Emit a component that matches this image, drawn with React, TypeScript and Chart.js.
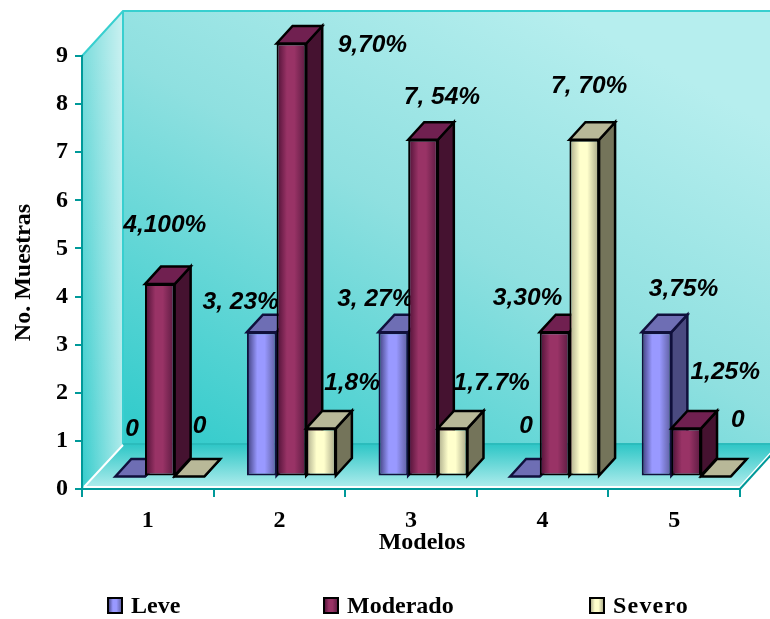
import React, { useEffect, useRef } from "react";
import { Chart, registerables } from "chart.js";

Chart.register(...registerables);

const categories = ["1", "2", "3", "4", "5"];
const leve = [0, 3, 3, 0, 3];
const moderado = [4, 9, 7, 3, 1];
const severo = [0, 1, 1, 7, 0];
const leveLabels = ["0", "3, 23%", "3, 27%", "0", "3,75%"];
const moderadoLabels = ["4,100%", "9,70%", "7, 54%", "3,30%", "1,25%"];
const severoLabels = ["0", "1,8%", "1,7.7%", "7, 70%", "0"];
const seriesNames = ["Leve", "Moderado", "Severo"];

// Data label centres, relative to the top-centre of the front face of each bar.
const leveNudge = [[2, -47], [-21, -29.5], [-18, -32.5], [1, -50], [27, -42.5]];
const moderadoNudge = [[5, -58.5], [81, 1.5], [19, -42.5], [-27, -33.5], [39, -56.5]];
const severoNudge = [[10, -50.5], [31, -45.5], [39, -45.5], [5, -53.5], [22, -56.5]];

const FLOOR_DX = 41;
const FLOOR_DY = -45;
const BAR_SHIFT_X = 12;
const BAR_SHIFT_Y = -12.5;
const BAR_DX = 16;
const BAR_DY = -17.5;
const GROUP_SHARE = 0.676;

const palette = [
  { edge: "#3c3c78", mid: "#9999ff", end: "#5c5c9c", side: "#4a4a80", top: "#6e6eb4", line: "#10103c" },
  { edge: "#4c1034", mid: "#993366", end: "#5a1a40", side: "#451230", top: "#702050", line: "#000000" },
  { edge: "#a8a888", mid: "#ffffcc", end: "#a5a585", side: "#74745a", top: "#b8b898", line: "#000000" },
];

function faceGradient(ctx: CanvasRenderingContext2D, left: number, width: number, p: typeof palette[number]) {
  const g = ctx.createLinearGradient(left, 0, left + width, 0);
  g.addColorStop(0, p.edge);
  g.addColorStop(0.35, p.mid);
  g.addColorStop(0.6, p.mid);
  g.addColorStop(1, p.end);
  return g;
}

function poly(ctx: CanvasRenderingContext2D, pts: number[][], close = true) {
  ctx.beginPath();
  pts.forEach(([x, y], i) => (i ? ctx.lineTo(x, y) : ctx.moveTo(x, y)));
  if (close) ctx.closePath();
}

// Back wall, side wall and floor of the box behind the bars.
const roomPlugin = {
  id: "room",
  beforeDraw(chart: any) {
    const { ctx, chartArea: a } = chart;
    const bx = a.left + FLOOR_DX;
    const tx = a.right + FLOOR_DX;
    const ty = a.top + FLOOR_DY;
    const by = a.bottom + FLOOR_DY;
    ctx.save();

    const back = ctx.createLinearGradient(bx + 60, by, bx + 330, ty - 60);
    back.addColorStop(0, "#35cccc");
    back.addColorStop(0.55, "#8fe0e0");
    back.addColorStop(1, "#b6eeee");
    poly(ctx, [[bx, ty], [tx, ty], [tx, by], [bx, by]]);
    ctx.fillStyle = back;
    ctx.fill();

    const side = ctx.createLinearGradient(0, a.bottom, 0, a.top);
    side.addColorStop(0, "#35cccc");
    side.addColorStop(1, "#7adcdc");
    poly(ctx, [[a.left, a.top], [bx, ty], [bx, by], [a.left, a.bottom]]);
    ctx.fillStyle = side;
    ctx.fill();
    const sheen = ctx.createLinearGradient(a.left, 0, bx, 0);
    sheen.addColorStop(0, "rgba(255,255,255,0)");
    sheen.addColorStop(1, "rgba(255,255,255,0.6)");
    ctx.fillStyle = sheen;
    ctx.fill();

    const floor = ctx.createLinearGradient(0, by, 0, a.bottom);
    floor.addColorStop(0, "#2dc6c6");
    floor.addColorStop(1, "#b4eeee");
    poly(ctx, [[a.left, a.bottom], [bx, by], [tx, by], [a.right, a.bottom]]);
    ctx.fillStyle = floor;
    ctx.fill();

    ctx.lineWidth = 2;
    ctx.strokeStyle = "#38cfcf";
    poly(ctx, [[a.left, a.top], [bx, ty], [tx, ty]], false);
    ctx.stroke();
    ctx.beginPath();
    ctx.moveTo(bx, ty);
    ctx.lineTo(bx, by);
    ctx.stroke();
    ctx.strokeStyle = "#2bbcbc";
    ctx.beginPath();
    ctx.moveTo(bx, by);
    ctx.lineTo(tx, by);
    ctx.stroke();

    ctx.strokeStyle = "#ffffff";
    ctx.beginPath();
    ctx.moveTo(a.left + 2, a.bottom - 2);
    ctx.lineTo(a.right, a.bottom - 2);
    ctx.lineTo(tx, by - 2);
    ctx.moveTo(a.left + 2, a.bottom - 2);
    ctx.lineTo(bx, by + 1);
    ctx.stroke();
    ctx.strokeStyle = "#009999";
    ctx.beginPath();
    ctx.moveTo(a.right, a.bottom);
    ctx.lineTo(tx, by);
    ctx.stroke();
    ctx.restore();
  },
};

// Data labels, extruded bars painted left to right, legend and the x axis caption.
const prismPlugin = {
  id: "prism",
  beforeDatasetsDraw(chart: any) {
    const { ctx } = chart;
    const rows = [
      { labels: leveLabels, nudge: leveNudge, index: 0 },
      { labels: moderadoLabels, nudge: moderadoNudge, index: 1 },
      { labels: severoLabels, nudge: severoNudge, index: 2 },
    ];
    ctx.save();
    ctx.font = "italic bold 24.5px 'Liberation Sans'";
    ctx.fillStyle = "#000000";
    ctx.textAlign = "center";
    ctx.textBaseline = "middle";
    rows.forEach(({ labels, nudge, index }) => {
      chart.getDatasetMeta(index).data.forEach((el: any, i: number) => {
        ctx.fillText(labels[i], el.x + BAR_SHIFT_X + nudge[i][0], el.y + BAR_SHIFT_Y + nudge[i][1]);
      });
    });
    ctx.restore();

    ctx.save();
    ctx.translate(BAR_SHIFT_X, BAR_SHIFT_Y);
    rows.forEach(({ index }) => {
      const meta = chart.getDatasetMeta(index);
      const p = palette[index];
      meta.data.forEach((el: any) => {
        const { x, y, base, width } = el.getProps(["x", "y", "base", "width"], true);
        const l = x - width / 2;
        const r = x + width / 2;
        ctx.lineWidth = 2.5;
        ctx.lineJoin = "miter";
        ctx.strokeStyle = p.line;
        poly(ctx, [[r, y], [r + BAR_DX, y + BAR_DY], [r + BAR_DX, base + BAR_DY], [r, base]]);
        ctx.fillStyle = p.side;
        ctx.fill();
        ctx.stroke();
        poly(ctx, [[l, y], [l + BAR_DX, y + BAR_DY], [r + BAR_DX, y + BAR_DY], [r, y]]);
        ctx.fillStyle = p.top;
        ctx.fill();
        ctx.stroke();
      });
      meta.controller.draw();
    });
    ctx.restore();
  },
  // Every dataset has already been painted in series order above.
  beforeDatasetDraw() {
    return false;
  },
  afterDatasetsDraw(chart: any) {
    const { ctx } = chart;
    ctx.save();

    ctx.font = "bold 24px 'Liberation Serif'";
    ctx.fillStyle = "#000000";
    ctx.textAlign = "center";
    ctx.textBaseline = "middle";
    ctx.fillText("Modelos", 422, 543);

    const keyX = [108, 324, 590];
    const keySpacing = ["0px", "0px", "1.2px"];
    ctx.textAlign = "left";
    seriesNames.forEach((name, i) => {
      ctx.fillStyle = faceGradient(ctx, keyX[i], 14, palette[i]);
      ctx.strokeStyle = "#000000";
      ctx.lineWidth = 2;
      ctx.fillRect(keyX[i], 598, 14, 15);
      ctx.strokeRect(keyX[i], 598, 14, 15);
      ctx.fillStyle = "#000000";
      (ctx as any).letterSpacing = keySpacing[i];
      ctx.fillText(name, keyX[i] + 23, 607);
    });
    ctx.restore();
  },
};

export default function App() {
  const ref = useRef<HTMLCanvasElement>(null);

  useEffect(() => {
    const barFill = (series: number) => (c: any) => {
      const chart = c.chart;
      const xs = chart.scales.x;
      if (!xs || !chart.chartArea) return palette[series].mid;
      const group = (xs.width / categories.length) * GROUP_SHARE;
      const w = group / 3;
      const centre = xs.getPixelForValue(c.dataIndex) + (series - 1) * w;
      return faceGradient(chart.ctx, centre - w / 2, w, palette[series]);
    };
    const common = {
      categoryPercentage: GROUP_SHARE,
      barPercentage: 1,
      borderWidth: 2,
      borderSkipped: false,
      clip: false,
    };
    const chart = new Chart(ref.current!, {
      type: "bar",
      data: {
        labels: categories,
        datasets: [
          { label: seriesNames[0], data: leve, backgroundColor: barFill(0), borderColor: palette[0].line, ...common },
          { label: seriesNames[1], data: moderado, backgroundColor: barFill(1), borderColor: palette[1].line, ...common },
          { label: seriesNames[2], data: severo, backgroundColor: barFill(2), borderColor: palette[2].line, ...common },
        ] as any,
      },
      options: {
        animation: false,
        responsive: false,
        layout: { padding: { top: 56, right: 30, left: 0, bottom: 0 } },
        plugins: { legend: { display: false }, tooltip: { enabled: false }, title: { display: false } },
        scales: {
          x: {
            afterFit: (s: any) => { s.height = 130; },
            grid: { display: true, drawOnChartArea: false, drawTicks: true, tickLength: 8, color: "#009999", lineWidth: 2 },
            border: { color: "#009999", width: 2 },
            ticks: { color: "#000000", padding: 9, font: { family: "'Liberation Serif'", size: 24, weight: "bold" } },
          },
          y: {
            min: 0,
            max: 9,
            afterFit: (s: any) => { s.width = 82; },
            grid: { display: true, drawOnChartArea: false, drawTicks: true, tickLength: 7, color: "#009999", lineWidth: 2 },
            border: { color: "#009999", width: 2 },
            ticks: { stepSize: 1, color: "#000000", padding: 7, font: { family: "'Liberation Serif'", size: 24, weight: "bold" } },
            title: {
              display: true,
              text: "No. Muestras",
              color: "#000000",
              padding: { top: 9, bottom: 0 },
              font: { family: "'Liberation Serif'", size: 24, weight: "bold" },
            },
          },
        },
      } as any,
      plugins: [roomPlugin, prismPlugin],
    });
    return () => chart.destroy();
  }, []);

  return (
    <div style={{ position: "fixed", left: 0, top: 0 }}>
      <canvas ref={ref} width={770} height={619} style={{ display: "block" }} />
    </div>
  );
}
